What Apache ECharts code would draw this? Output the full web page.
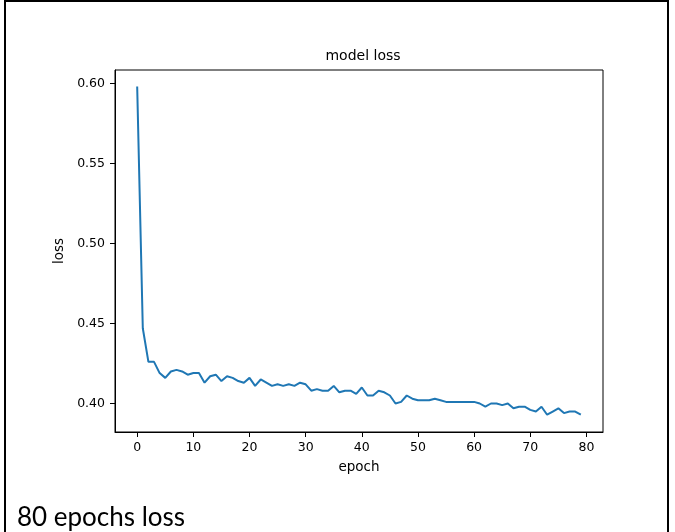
<!DOCTYPE html>
<html>
<head>
<meta charset="utf-8">
<script src="https://cdn.jsdelivr.net/npm/echarts@6/dist/echarts.min.js"></script>
<style>
  html, body { margin: 0; padding: 0; background: #fff; }
  #chart { width: 675px; height: 532px; }
</style>
</head>
<body>
<div id="chart"></div>
<script>
// loss per epoch
var lossValues = [
    0.598, 0.447, 0.426, 0.426, 0.419, 0.416, 0.420, 0.421, 0.420, 0.418,
    0.419, 0.419, 0.413, 0.417, 0.418, 0.414, 0.417, 0.416, 0.414, 0.413,
    0.416, 0.411, 0.415, 0.413, 0.411, 0.412, 0.411, 0.412, 0.411, 0.413,
    0.412, 0.408, 0.409, 0.408, 0.408, 0.411, 0.407, 0.408, 0.408, 0.406,
    0.410, 0.405, 0.405, 0.408, 0.407, 0.405, 0.400, 0.401, 0.405, 0.403,
    0.402, 0.402, 0.402, 0.403, 0.402, 0.401, 0.401, 0.401, 0.401, 0.401,
    0.401, 0.400, 0.398, 0.400, 0.400, 0.399, 0.400, 0.397, 0.398, 0.398,
    0.396, 0.395, 0.398, 0.393, 0.395, 0.397, 0.394, 0.395, 0.395, 0.393
];
var xTicks = [0, 10, 20, 30, 40, 50, 60, 70, 80];
var yTicks = [0.40, 0.45, 0.50, 0.55, 0.60];

var chart = echarts.init(document.getElementById("chart"));
var seriesData = [];
lossValues.forEach(function (v, i) {
    seriesData.push([i, v]);
});

var font = "DejaVu Sans";
option = {
    animation: false,
    title: {
        text: "model loss",
        left: 358,
        textAlign: "center",
        top: 44,
        textStyle: { fontFamily: font, fontSize: 14, fontWeight: "normal", color: "#000" }
    },
    grid: {
        left: 115,
        right: 72,
        top: 70,
        bottom: 100,
        show: true,
        borderColor: "#000",
        borderWidth: 1
    },
    xAxis: {
        type: "value",
        min: -3.95,
        max: 82.95,
        name: "epoch",
        nameLocation: "middle",
        nameGap: 28,
        nameTextStyle: { fontFamily: font, fontSize: 13.5, color: "#000" },
        splitLine: { show: false },
        axisLine: { show: true, onZero: false, lineStyle: { color: "#000" } },
        axisTick: { show: true, inside: false, length: 5, customValues: xTicks, lineStyle: { color: "#000" } },
        axisLabel: { customValues: xTicks, fontFamily: font, fontSize: 12.5, color: "#000", margin: 9 }
    },
    yAxis: {
        type: "value",
        min: 0.3822,
        max: 0.6083,
        name: "loss",
        nameLocation: "middle",
        nameGap: 47,
        nameTextStyle: { fontFamily: font, fontSize: 13.5, color: "#000" },
        splitLine: { show: false },
        axisLine: { show: true, onZero: false, lineStyle: { color: "#000" } },
        axisTick: { show: true, inside: false, length: 5, customValues: yTicks, lineStyle: { color: "#000" } },
        axisLabel: {
            customValues: yTicks,
            fontFamily: font, fontSize: 12.5, color: "#000", margin: 10,
            formatter: function (v) { return v.toFixed(2); }
        }
    },
    series: [
        {
            name: "loss",
            type: "line",
            data: seriesData,
            showSymbol: false,
            lineStyle: { color: "#1f77b4", width: 2 }
        }
    ],
    graphic: [
        {
            type: "rect",
            shape: { x: 5, y: 1, width: 663, height: 560 },
            style: { fill: null, stroke: "#000", lineWidth: 2 }
        },
        {
            type: "text",
            left: 17,
            top: 505,
            style: { text: "80 epochs loss", font: "26px Lato", fill: "#000" }
        }
    ]
};

chart.setOption(option);
</script>
</body>
</html>
